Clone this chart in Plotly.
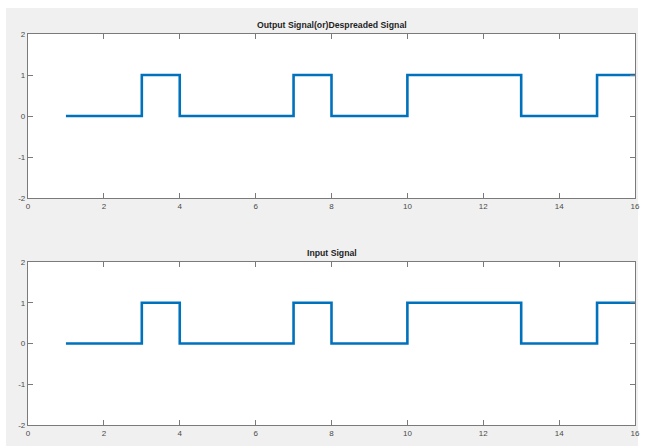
import plotly.graph_objects as go
from plotly.subplots import make_subplots

# Sample index and binary signal levels (stairs)
t = list(range(1, 17))
output_signal = [0, 0, 1, 0, 0, 0, 1, 0, 0, 1, 1, 1, 0, 0, 1, 1]
input_signal = [0, 0, 1, 0, 0, 0, 1, 0, 0, 1, 1, 1, 0, 0, 1, 1]
titles = ["Output Signal(or)Despreaded Signal", "Input Signal"]
x_ticks = [0, 2, 4, 6, 8, 10, 12, 14, 16]
y_ticks = [-2, -1, 0, 1, 2]

W, H = 646, 447
FONT = "Liberation Sans, Arial, sans-serif"
LINE_BLUE = "#0072BD"
AX_COLOR = "#7a7a7a"
TXT_COLOR = "#4a4a4a"

fig = make_subplots(rows=2, cols=1)

for i, sig in enumerate([output_signal, input_signal], start=1):
    fig.add_trace(
        go.Scatter(x=t, y=sig, mode="lines", line=dict(color=LINE_BLUE, width=2.6, shape="hv"),
                   showlegend=False, hoverinfo="skip"),
        row=i, col=1,
    )

x_dom = [28 / W, 635 / W]
y_doms = [[(H - 198) / H, (H - 34) / H], [(H - 425) / H, (H - 262) / H]]

axis_common = dict(
    showgrid=False, zeroline=False, showline=True, linecolor=AX_COLOR, linewidth=1.2,
    mirror="ticks", ticks="inside", ticklen=5, tickcolor=AX_COLOR, tickwidth=1,
    tickfont=dict(family=FONT, size=8, color=TXT_COLOR), automargin=False,
)

for i in range(2):
    sfx = "" if i == 0 else str(i + 1)
    fig.update_layout(**{
        "xaxis" + sfx: dict(axis_common, domain=x_dom, range=[0, 16], tickvals=x_ticks,
                            ticktext=[str(v) for v in x_ticks]),
        "yaxis" + sfx: dict(axis_common, domain=y_doms[i], range=[-2, 2], tickvals=y_ticks,
                            ticktext=[str(v) for v in y_ticks]),
    })

# Subplot titles
for title, ypix in zip(titles, [25, 253]):
    fig.add_annotation(text="<b>" + title + "</b>", xref="paper", yref="paper",
                       x=(x_dom[0] + x_dom[1]) / 2, y=(H - ypix) / H, xanchor="center", yanchor="middle",
                       showarrow=False, font=dict(family=FONT, size=8.7, color="#1e1e1e"))

# Thin white border around the grey figure window
for x0, x1, y0, y1 in [(0, 1, (H - 8) / H, 1), (0, 6 / W, 0, 1),
                       (638 / W, 1, 0, 1), (0, 1, 0, 1 / H)]:
    fig.add_shape(type="rect", xref="paper", yref="paper", x0=x0, x1=x1, y0=y0, y1=y1,
                  fillcolor="white", line_width=0, layer="below")

fig.update_layout(
    width=W, height=H, margin=dict(l=0, r=0, t=0, b=0),
    paper_bgcolor="#f0f0f0", plot_bgcolor="white",
)

fig.write_html("out.html")
